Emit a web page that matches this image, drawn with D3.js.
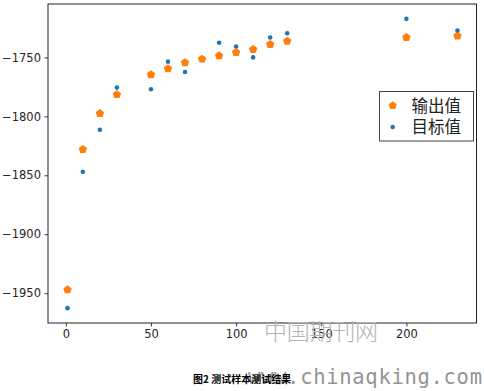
<!DOCTYPE html>
<html><head><meta charset="utf-8">
<script src="https://cdn.jsdelivr.net/npm/d3@7"></script>
<style>body{margin:0;background:#fff}svg{display:block}</style>
</head><body>
<script>
const outputX = [1,10,20,30,50,60,70,80,90,100,110,120,130,200,230];
const outputY = [-1947.1,-1828,-1797.6,-1781.5,-1764.6,-1759.6,-1754.5,-1751.4,-1748.6,-1745.8,-1743.2,-1739.0,-1736.2,-1733.1,-1731.7];
const targetX = [1,10,20,30,50,60,70,90,100,110,120,130,200,230];
const targetY = [-1962.7,-1847.1,-1811.4,-1775.6,-1777.0,-1753.6,-1762.4,-1737.6,-1740.7,-1750.0,-1733.1,-1729.5,-1717.3,-1727.2];
const xTicks = [0,50,100,150,200];
const yTicks = [-1950,-1900,-1850,-1800,-1750];
const seriesNames = ["输出值","目标值"];
const caption = "图2 测试样本测试结果";
const watermark1 = "中国期刊网";
const watermark2 = "www.chinaqking.com";

const W=484,H=391;
const L=48,R=476.5,T=4,B=323;
const orange="#ff7f0e", blue="#1f77b4";
const svg=d3.select("body").append("svg").attr("width",W).attr("height",H);
const x=d3.scaleLinear().domain([-10.45,241.45]).range([L,R+0.5]);
const y=d3.scaleLinear().domain([-1975.3,-1704.7]).range([B,T]);
const fmt=d=>String(d).replace("-","\u2212");
const tickFont="DejaVu Sans";

const gx=svg.append("g").attr("transform",`translate(0,${B})`)
  .call(d3.axisBottom(x).tickValues(xTicks).tickSize(3.5).tickPadding(3.5).tickFormat(fmt));
const gy=svg.append("g").attr("transform",`translate(${L},0)`)
  .call(d3.axisLeft(y).tickValues(yTicks).tickSize(3.5).tickPadding(3.5).tickFormat(fmt));
[gx,gy].forEach(g=>{
  g.select(".domain").remove();
  g.selectAll("line").attr("stroke","#222").attr("stroke-width",0.9);
  g.selectAll("text").attr("font-family",tickFont).attr("font-size",11.5).attr("fill","#262626");
});
svg.append("rect").attr("x",L).attr("y",T).attr("width",R-L).attr("height",B-T)
  .attr("fill","none").attr("stroke","#222").attr("stroke-width",1);

function pentagon(r){
  const pts=d3.range(5).map(i=>{const a=-Math.PI/2+i*2*Math.PI/5;return [r*Math.cos(a),r*Math.sin(a)];});
  return "M"+pts.map(p=>p.join(",")).join("L")+"Z";
}
const outData=outputX.map((d,i)=>[d,outputY[i]]);
const tgtData=targetX.map((d,i)=>[d,targetY[i]]);
svg.append("g").selectAll("path").data(outData).join("path")
  .attr("d",pentagon(4.4)).attr("fill",orange)
  .attr("transform",d=>`translate(${x(d[0])},${y(d[1])})`);
svg.append("g").selectAll("circle").data(tgtData).join("circle")
  .attr("cx",d=>x(d[0])).attr("cy",d=>y(d[1])).attr("r",2.3).attr("fill",blue);

// legend
const lg=svg.append("g");
lg.append("rect").attr("x",379.5).attr("y",91.5).attr("width",94).attr("height",49.5)
  .attr("fill","#fff").attr("stroke","#444").attr("stroke-width",1);
lg.append("path").attr("d",pentagon(4.2)).attr("fill",orange).attr("transform","translate(392.7,105.5)");
lg.append("circle").attr("cx",392.7).attr("cy",127).attr("r",2.3).attr("fill",blue);
lg.selectAll("text").data(seriesNames).join("text")
  .attr("x",411.5).attr("y",(d,i)=>111.5+i*21.8).text(d=>d)
  .attr("font-family","Noto Sans CJK SC").attr("font-size",16.5).attr("fill","#222");

// watermark
svg.append("text").attr("x",264).attr("y",340).text(watermark1)
  .attr("font-family","Noto Sans CJK SC").attr("font-size",23).attr("font-weight",300)
  .attr("textLength",114).attr("fill","#b4b4b4");
svg.append("text").attr("x",248).attr("y",384).text(watermark2)
  .attr("font-family","DejaVu Sans Mono").attr("font-size",20.5)
  .attr("textLength",234).attr("fill","#949494");

// caption
svg.append("text").attr("x",193).attr("y",382.5).text(caption)
  .attr("font-family","Noto Sans CJK SC").attr("font-weight","bold").attr("font-size",10)
  .attr("fill","#000");
</script>
</body></html>
